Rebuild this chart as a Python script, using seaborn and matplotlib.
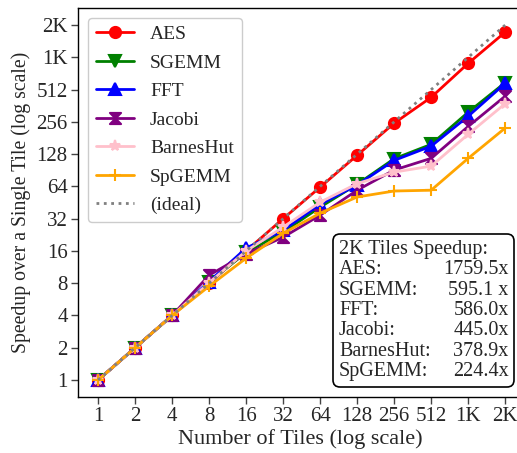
import numpy as np
import pandas as pd
import seaborn as sns
import matplotlib.pyplot as plt
from matplotlib.path import Path
from matplotlib.ticker import FixedLocator, NullLocator
from matplotlib.offsetbox import TextArea, VPacker, HPacker, AnchoredOffsetbox

sns.set_style("ticks")
plt.rcParams['font.family'] = ['Liberation Serif', 'DejaVu Serif']
plt.rcParams['mathtext.fontset'] = 'stix'

tiles = [1, 2, 4, 8, 16, 32, 64, 128, 256, 512, 1024, 2048]
tick_labels = ['1', '2', '4', '8', '16', '32', '64', '128', '256', '512', '1K', '2K']

aes = [1, 2, 4, 8, 16, 32, 63, 125, 249, 434, 900, 1759.5]
sgemm = [1, 2, 4, 8.2, 15.5, 24, 41, 67, 116, 158, 315, 595.1]
fft = [1, 2, 4, 8.3, 17, 25, 43.5, 66, 112, 152, 289, 586.0]
jacobi = [1, 2, 4, 9.5, 15, 21.5, 34.5, 59, 91, 117, 232, 445.0]
barneshut = [1, 2, 4, 8.1, 16, 26.7, 45.6, 68, 87, 99, 196, 378.9]
spgemm = [1, 2, 4, 7.5, 13.7, 23.4, 36, 51, 58, 59, 117, 224.4]

names = ['AES', 'SGEMM', 'FFT', 'Jacobi', 'BarnesHut', 'SpGEMM']
series = [aes, sgemm, fft, jacobi, barneshut, spgemm]
speedup_text = ['1759.5x', '595.1 x', '586.0x', '445.0x', '378.9x', '224.4x']

df = pd.DataFrame({
    'Tiles': tiles * len(names),
    'Speedup': [v for s in series for v in s],
    'App': [n for n in names for _ in tiles],
})

hourglass = Path([(-1, 1), (1, 1), (-1, -1), (1, -1), (-1, 1)],
                 [Path.MOVETO, Path.LINETO, Path.LINETO, Path.LINETO, Path.CLOSEPOLY])
colors = {'AES': 'red', 'SGEMM': 'green', 'FFT': 'blue', 'Jacobi': 'purple',
          'BarnesHut': 'pink', 'SpGEMM': 'orange'}
markers = {'AES': 'o', 'SGEMM': 'v', 'FFT': '^', 'Jacobi': hourglass,
           'BarnesHut': '*', 'SpGEMM': '+'}

fig = plt.figure(figsize=(5.17, 4.53), dpi=100)
ax = fig.add_axes([0.151, 0.1236, 0.859, 0.8584])

for n in names:
    sns.lineplot(data=df[df['App'] == n], x='Tiles', y='Speedup', color=colors[n],
                 marker=markers[n], linewidth=2, markersize=8, markeredgewidth=1.5,
                 markeredgecolor=colors[n], label=n, ax=ax)
ax.plot(tiles, tiles, color='gray', linestyle=':', linewidth=2, label='(ideal)')

ax.set_xscale('log', base=2)
ax.set_yscale('log', base=2)
ax.set_xlim(0.687, 2048 * 2 ** (17 / 37))
ax.set_ylim(0.694, 2948)
ax.xaxis.set_major_locator(FixedLocator(tiles))
ax.yaxis.set_major_locator(FixedLocator(tiles))
ax.xaxis.set_minor_locator(NullLocator())
ax.yaxis.set_minor_locator(NullLocator())
ax.set_xticklabels(tick_labels)
ax.set_yticklabels(tick_labels)
ax.tick_params(labelsize=15, length=5, width=1, color='#444444', pad=2.5)
for sp in ax.spines.values():
    sp.set_color('black')
    sp.set_linewidth(1)

ax.set_xlabel('Number of Tiles (log scale)', fontsize=16, labelpad=2)
ax.set_ylabel('Speedup over a Single Tile (log scale)', fontsize=14.2, labelpad=4)

handles, labels = ax.get_legend_handles_labels()
leg = ax.legend(handles, labels, loc='upper left', fontsize=14,
                handlelength=2.0, labelspacing=0.56, borderaxespad=0.5,
                fancybox=True, framealpha=1)

fs = 14.5
header = TextArea('2K Tiles Speedup:', textprops=dict(size=fs))
col1 = TextArea('\n'.join(n + ':' for n in names),
                textprops=dict(size=fs, linespacing=1.1, multialignment='left'))
col2 = TextArea('\n'.join(speedup_text),
                textprops=dict(size=fs, linespacing=1.1, multialignment='right'))
body = HPacker(children=[col1, col2], align='top', pad=0, sep=9)
box = VPacker(children=[header, body], align='left', pad=0, sep=1)
anchored = AnchoredOffsetbox(loc='lower right', child=box, pad=0.3, frameon=True,
                             bbox_to_anchor=(0.979, 0.03), bbox_transform=ax.transAxes,
                             borderpad=0)
anchored.patch.set_boxstyle('round,pad=0.1,rounding_size=0.5')
anchored.patch.set_edgecolor('black')
anchored.patch.set_linewidth(1.2)
ax.add_artist(anchored)

fig.savefig('out.png', dpi=100)
